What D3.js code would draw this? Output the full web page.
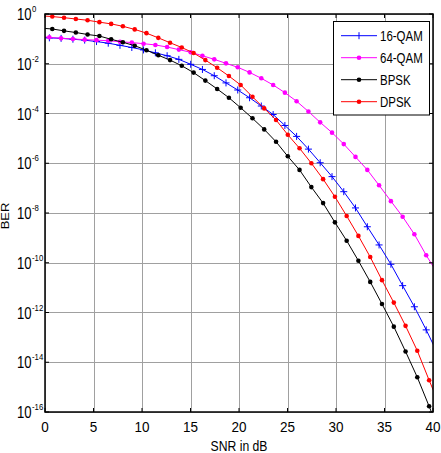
<!DOCTYPE html>
<html>
<head>
<meta charset="utf-8">
<script src="https://cdn.jsdelivr.net/npm/d3@7/dist/d3.min.js"></script>
<style>
  body { margin: 0; background: #fff; }
  text { font-family: "Liberation Sans", Arial, sans-serif; }
</style>
</head>
<body>
<svg></svg>
<script>
// SNR points (dB) where the markers sit; the first and last points fall outside the axes
let snrPsk = [-0.46, 0.75, 1.96, 3.18, 4.39, 5.61, 6.82, 8.03, 9.25, 10.46, 11.68, 12.89, 14.10, 15.32,
  16.53, 17.75, 18.96, 20.17, 21.39, 22.60, 23.82, 25.03, 26.24, 27.46, 28.67, 29.89, 31.10, 32.31,
  33.53, 34.74, 35.96, 37.17, 38.38, 39.60, 40.81];
let snrQam = [-0.76, 0.45, 1.66, 2.88, 4.09, 5.31, 6.52, 7.73, 8.95, 10.16, 11.38, 12.59, 13.80, 15.02,
  16.23, 17.45, 18.66, 19.87, 21.09, 22.30, 23.52, 24.73, 25.94, 27.16, 28.37, 29.59, 30.80, 32.01,
  33.23, 34.44, 35.66, 36.87, 38.08, 39.30, 40.51];

let ber16qam = [1.2e-1, 1.1e-1, 1.05e-1, 9.7e-2, 8.9e-2, 7.8e-2, 6.7e-2, 5.5e-2, 4.5e-2, 3.6e-2, 2.75e-2,
  2.1e-2, 1.5e-2, 9.5e-3, 5.9e-3, 3.3e-3, 1.7e-3, 8.8e-4, 4.3e-4, 2.0e-4, 9.1e-5, 3.3e-5, 1.2e-5, 3.7e-6,
  1.05e-6, 2.9e-7, 7.2e-8, 1.6e-8, 2.8e-9, 5.2e-10, 8.7e-11, 1.2e-11, 1.7e-12, 2.0e-13, 2.1e-14];
let ber64qam = [1.25e-1, 1.16e-1, 1.05e-1, 9.9e-2, 9.3e-2, 8.9e-2, 8.4e-2, 7.7e-2, 7.1e-2, 6.4e-2, 5.7e-2,
  4.7e-2, 3.7e-2, 2.9e-2, 2.1e-2, 1.5e-2, 1.04e-2, 7.2e-3, 4.5e-3, 2.6e-3, 1.4e-3, 6.9e-4, 3.1e-4, 1.2e-4,
  4.4e-5, 1.7e-5, 5.9e-6, 1.8e-6, 5.4e-7, 1.3e-7, 3.0e-8, 7.1e-9, 1.4e-9, 2.0e-10, 3.5e-11];
let berBpsk = [2.7e-1, 2.5e-1, 2.1e-1, 1.8e-1, 1.5e-1, 1.3e-1, 9.6e-2, 7.3e-2, 5.3e-2, 3.5e-2, 2.2e-2,
  1.4e-2, 8.3e-3, 4.4e-3, 2.1e-3, 9.7e-4, 4.3e-4, 1.7e-4, 6.4e-5, 2.3e-5, 7.3e-6, 1.9e-6, 5.4e-7, 1.1e-7,
  2.5e-8, 4.2e-9, 7.7e-10, 1.2e-10, 1.7e-11, 2.2e-12, 2.7e-13, 2.7e-14, 2.5e-15, 1.7e-16, 1.1e-17];
let berDpsk = [8.5e-1, 7.9e-1, 7.1e-1, 6.3e-1, 5.6e-1, 4.7e-1, 4.0e-1, 3.2e-1, 2.4e-1, 1.7e-1, 1.1e-1,
  7.0e-2, 4.5e-2, 2.7e-2, 1.4e-2, 6.9e-3, 3.2e-3, 1.4e-3, 4.7e-4, 1.6e-4, 5.5e-5, 1.4e-5, 4.0e-6, 1.0e-6,
  2.3e-7, 4.5e-8, 7.6e-9, 1.2e-9, 1.7e-10, 2.0e-11, 2.5e-12, 2.9e-13, 2.9e-14, 1.9e-15, 1.4e-16];

let seriesNames = ["16-QAM", "64-QAM", "BPSK", "DPSK"];
let xTicks = [0, 5, 10, 15, 20, 25, 30, 35, 40];
let yExponents = [0, -2, -4, -6, -8, -10, -12, -14, -16];

let width = 441, height = 453;
let plotLeft = 45, plotRight = 433, plotTop = 14, plotBottom = 412;

let series = [
  {name: seriesNames[0], snr: snrQam, ber: ber16qam, color: "#0000ff", marker: "plus"},
  {name: seriesNames[1], snr: snrQam, ber: ber64qam, color: "#ff00ff", marker: "dot"},
  {name: seriesNames[2], snr: snrPsk, ber: berBpsk, color: "#000000", marker: "dot"},
  {name: seriesNames[3], snr: snrPsk, ber: berDpsk, color: "#ff0000", marker: "dot"}
];

let svg = d3.select("svg").attr("width", width).attr("height", height);

let x = d3.scaleLinear().domain([0, 40]).range([plotLeft, plotRight]);
let y = d3.scaleLog().domain([1e-16, 1]).range([plotBottom, plotTop]);

// text squeezed horizontally, like the narrow lettering of the original
function squeezed(parent, px, py, str, size, sx, anchor) {
  return parent.append("g")
    .attr("transform", "translate(" + px + "," + py + ") scale(" + sx + ",1)")
    .append("text")
    .attr("font-size", size)
    .attr("text-anchor", anchor || "start")
    .text(str);
}

svg.append("defs").append("clipPath").attr("id", "plotArea")
  .append("rect")
  .attr("x", plotLeft).attr("y", plotTop)
  .attr("width", plotRight - plotLeft).attr("height", plotBottom - plotTop);

// grid
let grid = svg.append("g").attr("stroke", "#a0a0a0").attr("stroke-width", 1);
grid.selectAll(".gx").data(xTicks).enter().append("line")
  .attr("x1", d => Math.round(x(d)) + 0.5).attr("x2", d => Math.round(x(d)) + 0.5)
  .attr("y1", plotTop).attr("y2", plotBottom);
grid.selectAll(".gy").data(yExponents).enter().append("line")
  .attr("y1", d => Math.round(y(Math.pow(10, d))) + 0.5).attr("y2", d => Math.round(y(Math.pow(10, d))) + 0.5)
  .attr("x1", plotLeft).attr("x2", plotRight);

// curves
let plot = svg.append("g").attr("clip-path", "url(#plotArea)");
let line = d3.line().x(d => x(d[0])).y(d => y(d[1]));

series.forEach(s => {
  let pts = s.snr.map((v, i) => [v, s.ber[i]]);
  plot.append("path")
    .datum(pts)
    .attr("fill", "none")
    .attr("stroke", s.color)
    .attr("stroke-width", 1)
    .attr("d", line);

  let inside = pts.filter(d => d[0] >= 0 && d[0] <= 40);
  if (s.marker == "dot") {
    plot.selectAll(null).data(inside).enter().append("circle")
      .attr("cx", d => x(d[0])).attr("cy", d => y(d[1]))
      .attr("r", 2.3)
      .attr("fill", s.color);
  } else {
    plot.selectAll(null).data(inside).enter().append("path")
      .attr("d", d => {
        let cx = x(d[0]), cy = y(d[1]);
        return "M" + (cx - 3.5) + "," + cy + "H" + (cx + 3.5) + "M" + cx + "," + (cy - 3.5) + "V" + (cy + 3.5);
      })
      .attr("stroke", s.color)
      .attr("stroke-width", 1);
  }
});

// frame and ticks
svg.append("rect")
  .attr("x", plotLeft).attr("y", plotTop)
  .attr("width", plotRight - plotLeft).attr("height", plotBottom - plotTop)
  .attr("fill", "none").attr("stroke", "#000").attr("stroke-width", 1.5);

let ticks = svg.append("g").attr("stroke", "#000").attr("stroke-width", 1);
xTicks.forEach(t => {
  ticks.append("line").attr("x1", x(t)).attr("x2", x(t)).attr("y1", plotBottom).attr("y2", plotBottom - 4);
  ticks.append("line").attr("x1", x(t)).attr("x2", x(t)).attr("y1", plotTop).attr("y2", plotTop + 4);
});
yExponents.forEach(e => {
  let yy = y(Math.pow(10, e));
  ticks.append("line").attr("x1", plotLeft).attr("x2", plotLeft + 4).attr("y1", yy).attr("y2", yy);
  ticks.append("line").attr("x1", plotRight).attr("x2", plotRight - 4).attr("y1", yy).attr("y2", yy);
});

// tick labels
let xl = svg.append("g");
xTicks.forEach(t => squeezed(xl, x(t), plotBottom + 20, t, 15, 0.9, "middle"));

let yl = svg.append("g");
yExponents.forEach(e => {
  let yy = y(Math.pow(10, e));
  squeezed(yl, 17, yy + 6, "10", 16, 0.82);
  squeezed(yl, 32, yy - 2, e, 9.5, 0.82);
});

// axis titles
squeezed(svg, (plotLeft + plotRight) / 2, 451, "SNR in dB", 14, 0.87, "middle");
svg.append("g")
  .attr("transform", "translate(8.7," + ((plotTop + plotBottom) / 2 + 3) + ") scale(0.82,1) rotate(-90)")
  .append("text")
  .attr("text-anchor", "middle").attr("font-size", 13)
  .text("BER");

// legend
let lg = svg.append("g");
lg.append("rect")
  .attr("x", 333.5).attr("y", 21.5).attr("width", 96).attr("height", 93.5)
  .attr("fill", "#fff").attr("stroke", "#000").attr("stroke-width", 1);
series.forEach((s, i) => {
  let yy = 35.7 + i * 22;
  lg.append("line").attr("x1", 341).attr("x2", 377).attr("y1", yy).attr("y2", yy)
    .attr("stroke", s.color).attr("stroke-width", 1);
  if (s.marker == "dot") {
    lg.append("circle").attr("cx", 359).attr("cy", yy).attr("r", 2.3).attr("fill", s.color);
  } else {
    lg.append("path").attr("d", "M359," + (yy - 3.5) + "V" + (yy + 3.5))
      .attr("stroke", s.color).attr("stroke-width", 1);
  }
  squeezed(lg, 380, yy + 5, s.name, 14, 0.82);
});
</script>
</body>
</html>
